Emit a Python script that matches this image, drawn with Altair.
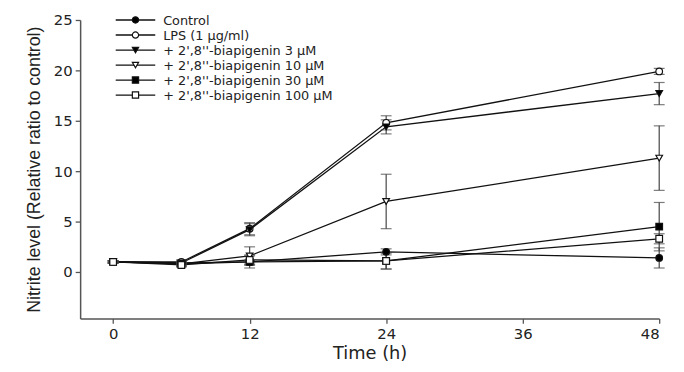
import altair as alt
import pandas as pd

times = [0, 6, 12, 24, 48]
series = [
    "Control",
    "LPS (1 µg/ml)",
    "+ 2',8''-biapigenin 3 µM",
    "+ 2',8''-biapigenin 10 µM",
    "+ 2',8''-biapigenin 30 µM",
    "+ 2',8''-biapigenin 100 µM",
]
control = [1.0, 0.9, 1.0, 2.0, 1.4]
control_err = [0.1, 0.1, 0.2, 0.3, 1.0]
lps = [1.0, 1.0, 4.3, 14.8, 19.9]
lps_err = [0.1, 0.2, 0.6, 0.7, 0.3]
bia3 = [1.0, 0.9, 4.2, 14.4, 17.7]
bia3_err = [0.1, 0.2, 0.6, 0.7, 1.1]
bia10 = [1.0, 0.8, 1.6, 7.0, 11.3]
bia10_err = [0.1, 0.2, 0.9, 2.7, 3.2]
bia30 = [1.0, 0.8, 1.0, 1.1, 4.5]
bia30_err = [0.1, 0.2, 0.6, 0.8, 2.4]
bia100 = [1.0, 0.7, 1.2, 1.1, 3.3]
bia100_err = [0.1, 0.2, 0.5, 0.8, 0.5]

values = [control, lps, bia3, bia10, bia30, bia100]
errors = [control_err, lps_err, bia3_err, bia10_err, bia30_err, bia100_err]
shapes = ["circle", "circle", "triangle-down", "triangle-down", "square", "square"]
fills = ["black", "white", "black", "white", "black", "white"]

rows = []
for s, vals, errs in zip(series, values, errors):
    for t, v, e in zip(times, vals, errs):
        rows.append({"series": s, "time": t, "value": v, "lo": v - e, "hi": v + e})
df = pd.DataFrame(rows)
leg_df = pd.DataFrame({"series": series})

FONT = "DejaVu Sans"
x_axis = alt.Axis(values=[0, 12, 24, 36, 48], title="Time (h)", grid=False,
                  domainColor="#555", domainWidth=1.5, tickColor="#555", tickWidth=1.3,
                  tickSize=5, labelFont=FONT, labelFontSize=15, labelColor="#222",
                  labelPadding=3, titleFont=FONT, titleFontSize=18, titleFontWeight="normal",
                  titleColor="#222", titlePadding=4)
y_axis = alt.Axis(values=[0, 5, 10, 15, 20, 25], title="Nitrite level (Relative ratio to control)",
                  grid=False, domainColor="#555", domainWidth=1.5, tickColor="#555", tickWidth=1.3,
                  tickSize=5, labelFont=FONT, labelFontSize=15, labelColor="#222", labelPadding=3,
                  titleFont="Liberation Sans", titleFontSize=18, titleFontWeight="normal",
                  titleColor="#222", titlePadding=10)
xs = alt.Scale(domain=[-2.9, 48], nice=False, zero=False)
ys = alt.Scale(domain=[-4.6, 25], nice=False, zero=False)
X = alt.X("time:Q", scale=xs, axis=x_axis)

shape_enc = alt.Shape("series:N", scale=alt.Scale(domain=series, range=shapes), legend=None)
fill_enc = alt.Fill("series:N", scale=alt.Scale(domain=series, range=fills), legend=None)

base = alt.Chart(df)
lines = base.mark_line(color="#111", strokeWidth=1.3).encode(
    x=X, y=alt.Y("value:Q", scale=ys, axis=y_axis), detail="series:N")
rules = base.mark_rule(color="#444", strokeWidth=1.2).encode(
    x=X, y=alt.Y("lo:Q", scale=ys, axis=y_axis), y2="hi:Q")
cap_lo = base.mark_tick(color="#444", thickness=1.2, size=11, orient="horizontal").encode(
    x=X, y=alt.Y("lo:Q", scale=ys, axis=y_axis))
cap_hi = base.mark_tick(color="#444", thickness=1.2, size=11, orient="horizontal").encode(
    x=X, y=alt.Y("hi:Q", scale=ys, axis=y_axis))
points = base.mark_point(filled=True, stroke="#111", strokeWidth=1.2, size=45, opacity=1).encode(
    x=X, y=alt.Y("value:Q", scale=ys, axis=y_axis), shape=shape_enc, fill=fill_enc)

data_layer = alt.layer(lines, rules, cap_lo, cap_hi, points)

LY = alt.Y("series:N", sort=series, scale=alt.Scale(type="point", range=[0, 76], padding=0), axis=None)
leg = alt.Chart(leg_df)
leg_line = leg.mark_rule(color="#111", strokeWidth=1.3).encode(
    x=alt.value(36), x2=alt.value(76), y=LY)
leg_pts = leg.mark_point(filled=True, stroke="#111", strokeWidth=1.2, size=40, opacity=1).encode(
    x=alt.value(56), y=LY, shape=shape_enc, fill=fill_enc)
leg_text = leg.mark_text(align="left", baseline="middle", font=FONT, fontSize=13, color="#222", dy=1).encode(
    x=alt.value(84), y=LY, text="series:N")
legend_layer = alt.layer(leg_line, leg_pts, leg_text)

chart = alt.layer(data_layer, legend_layer).resolve_scale(y="independent").properties(
    width=586, height=302,
    autosize=alt.AutoSizeParams(type="none"),
    padding={"left": 73, "top": 10, "right": 17, "bottom": 44},
).configure_view(stroke=None)

chart.save("out.html", embed_options={"renderer": "svg", "actions": False})
